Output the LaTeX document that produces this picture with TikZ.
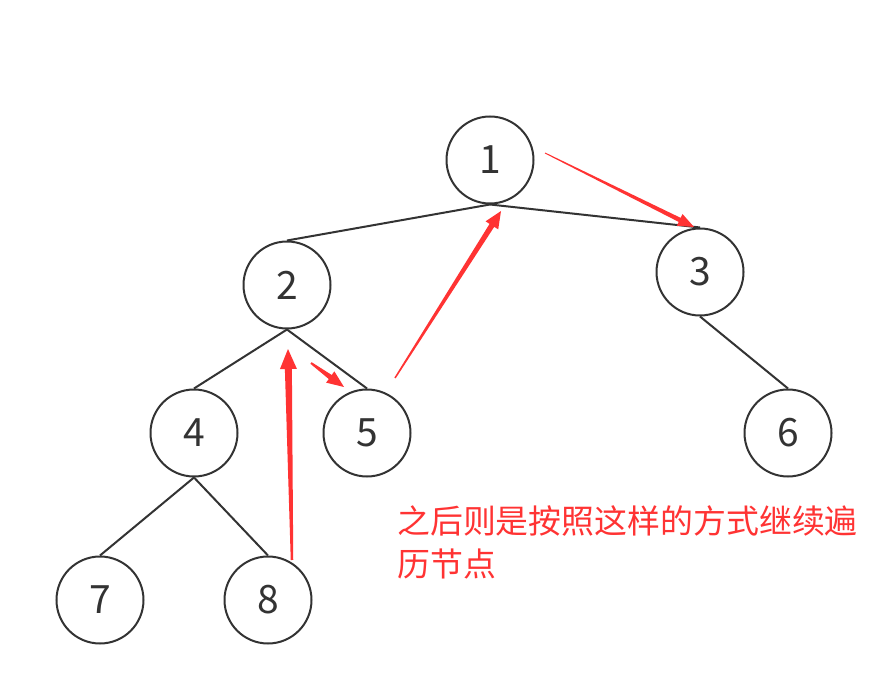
\documentclass[tikz,border=0pt]{standalone}
\usepackage{fontspec}
\setmainfont{Noto Sans CJK SC}
\newfontfamily\cjk{Noto Sans CJK SC}
\usetikzlibrary{calc}
\definecolor{ink}{HTML}{333333}
\definecolor{redink}{HTML}{FF3333}
\tikzset{
  treenode/.style={circle,draw=ink,line width=2pt,minimum size=87pt,inner sep=0pt,
    font=\fontsize{39}{39}\selectfont,text=ink},
  treeedge/.style={draw=ink,line width=2pt},
  note/.style={text=redink,font=\cjk\fontsize{32.9}{43}\selectfont,align=left,anchor=north west,inner sep=0pt}
}
% tapered arrow: start, tip, start width, shaft width, head width, head length
\newcommand{\taperarrow}[6]{%
  \coordinate (hb) at ($(#2)!#6!(#1)$);
  \fill[redink] ($(#1)!#3/2!90:(#2)$) -- ($(hb)!#4/2!90:(#2)$) -- ($(hb)!#5/2!90:(#2)$)
    -- (#2) -- ($(hb)!#5/2!-90:(#2)$) -- ($(hb)!#4/2!-90:(#2)$) -- ($(#1)!#3/2!-90:(#2)$) -- cycle;
}
\begin{document}
\begin{tikzpicture}[x=1pt,y=-1pt]
\useasboundingbox (0,0) rectangle (888,700);
\node[treenode] (n1) at (490,160) {1};
\node[treenode] (n2) at (287,285) {2};
\node[treenode] (n3) at (700,272) {3};
\node[treenode] (n4) at (194,433) {4};
\node[treenode] (n5) at (367,433) {5};
\node[treenode] (n6) at (788,433) {6};
\node[treenode] (n7) at (100,600) {7};
\node[treenode] (n8) at (268,600) {8};
\draw[treeedge] (n1.south) -- (n2.north);
\draw[treeedge] (n1.south) -- (n3.north);
\draw[treeedge] (n2.south) -- (n4.north);
\draw[treeedge] (n2.south) -- (n5.north);
\draw[treeedge] (n3.south) -- (n6.north);
\draw[treeedge] (n4.south) -- (n7.north);
\draw[treeedge] (n4.south) -- (n8.north);
% red annotation arrows
\coordinate (a1s) at (545,153);
\coordinate (a1t) at (694,227);
\taperarrow{a1s}{a1t}{1pt}{4.5pt}{13pt}{16pt}
\coordinate (a2s) at (395,378);
\coordinate (a2t) at (501,211);
\taperarrow{a2s}{a2t}{1.5pt}{5.5pt}{15pt}{17pt}
\coordinate (a3s) at (292,560);
\coordinate (a3t) at (288,349);
\taperarrow{a3s}{a3t}{2.5pt}{7pt}{17pt}{20pt}
\coordinate (a4s) at (311,363);
\coordinate (a4t) at (344,387);
\taperarrow{a4s}{a4t}{2pt}{5pt}{14pt}{17pt}
\node[note] (txt) at (397,505) {之后则是按照这样的方式继续遍\\历节点};
\end{tikzpicture}
\end{document}
